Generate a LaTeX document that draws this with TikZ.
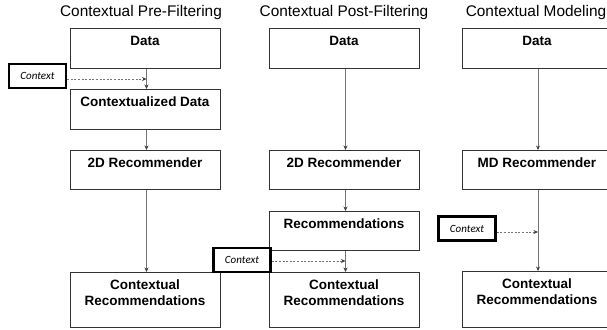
\documentclass[tikz,border=0pt]{standalone}
\usepackage{fontspec}
\setmainfont{Liberation Sans}
\newfontfamily\ctxfont{Carlito}
\usetikzlibrary{arrows.meta}

\tikzset{
  heading/.style={anchor=base, inner sep=0, font=\fontsize{15.4}{18}\selectfont},
  stage/.style={draw=black!80, line width=0.9pt, anchor=north, inner sep=0,
    minimum width=150pt, align=center, text height=17.5pt,
    font=\fontsize{13.5}{16}\selectfont\bfseries},
  twoline/.style={text height=33.5pt},
  ctxbox/.style={draw=black, line width=2.4pt, inner sep=0,
    minimum width=57pt, minimum height=24pt,
    font=\ctxfont\itshape\fontsize{11}{13}\selectfont},
  flow/.style={draw=black!55, line width=0.6pt,
    -{Stealth[length=4.5pt,width=4pt,color=black!75]}},
  ctxflow/.style={draw=black!55, line width=0.6pt, dash pattern=on 2pt off 1.6pt,
    -{Stealth[length=4.5pt,width=4pt,color=black!75]}}
}

\begin{document}
\begin{tikzpicture}[x=1pt, y=-1pt]
\useasboundingbox (0,0) rectangle (607,329);

% column headings
\node[heading] (h1) at (141,16.5) {Contextual Pre-Filtering};
\node[heading] (h2) at (344,16.5) {Contextual Post-Filtering};
\node[heading] (h3) at (536,16.5) {Contextual Modeling};

% pre-filtering column
\node[stage, text depth=22.5pt] (a1) at (145,28) {Data};
\node[stage, text depth=22.5pt] (a2) at (145,89) {Contextualized Data};
\node[stage, text depth=21.5pt] (a3) at (145,150) {2D Recommender};
\node[stage, twoline, text depth=21.5pt] (a4) at (145,272) {Contextual\\Recommendations};
\node[ctxbox] (k1) at (37.5,76) {Context};

% post-filtering column
\node[stage, text depth=22.5pt] (b1) at (344,28) {Data};
\node[stage, text depth=21.5pt] (b2) at (344,150) {2D Recommender};
\node[stage, text depth=21.5pt] (b3) at (344,211) {Recommendations};
\node[stage, twoline, text depth=21.5pt] (b4) at (344,272) {Contextual\\Recommendations};
\node[ctxbox] (k2) at (242,260) {Context};

% modeling column
\node[stage, text depth=22.5pt] (c1) at (537,28) {Data};
\node[stage, text depth=21.5pt] (c2) at (537,150) {MD Recommender};
\node[stage, twoline, text depth=22.5pt] (c3) at (537,271) {Contextual\\Recommendations};
\node[ctxbox] (k3) at (467,228.5) {Context};

% main flow
\draw[flow] ([xshift=1.5pt]a1.south) -- ([xshift=1.5pt]a2.north);
\draw[flow] ([xshift=1.5pt]a2.south) -- ([xshift=1.5pt]a3.north);
\draw[flow] ([xshift=1.5pt]a3.south) -- ([xshift=1.5pt]a4.north);
\draw[flow] ([xshift=1.5pt]b1.south) -- ([xshift=1.5pt]b2.north);
\draw[flow] ([xshift=1.5pt]b2.south) -- ([xshift=1.5pt]b3.north);
\draw[flow] ([xshift=1.5pt]b3.south) -- ([xshift=1.5pt]b4.north);
\draw[flow] ([xshift=1pt]c1.south) -- ([xshift=1pt]c2.north);
\draw[flow] ([xshift=1pt]c2.south) -- ([xshift=1pt]c3.north);

% context inputs
\coordinate (j1) at (146.5,79);
\coordinate (j2) at (345.5,261);
\coordinate (j3) at (538,232);
\draw[ctxflow] (k1.east |- j1) -- (j1);
\draw[ctxflow] (k2.east |- j2) -- (j2);
\draw[ctxflow] (k3.east |- j3) -- (j3);
\end{tikzpicture}
\end{document}
